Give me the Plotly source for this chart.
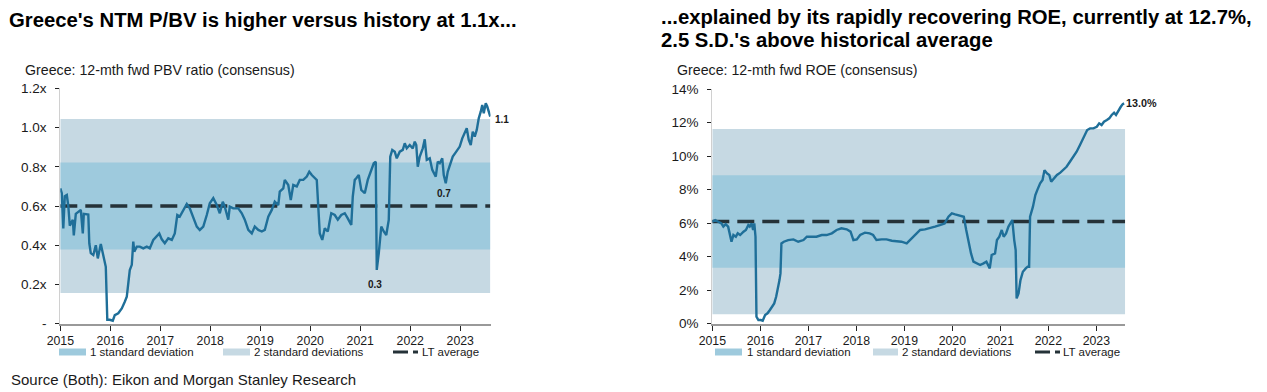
import plotly.graph_objects as go

# ---------------- DATA ----------------
# Left chart: Greece 12-mth fwd P/BV (decimal years, values in x)
pbv_years = [2015.00, 2015.03, 2015.06, 2015.09, 2015.13, 2015.16, 2015.19, 2015.25, 2015.27, 2015.31,
             2015.36, 2015.41, 2015.45, 2015.47, 2015.56, 2015.58, 2015.61, 2015.66, 2015.71, 2015.75,
             2015.81, 2015.87, 2015.91, 2015.94, 2015.99, 2016.05, 2016.09, 2016.16, 2016.23, 2016.29,
             2016.33, 2016.36, 2016.39, 2016.43, 2016.46, 2016.48, 2016.53, 2016.59, 2016.66, 2016.73,
             2016.79, 2016.86, 2016.93, 2016.98, 2017.03, 2017.09, 2017.16, 2017.23, 2017.29, 2017.34,
             2017.39, 2017.46, 2017.53, 2017.59, 2017.66, 2017.73, 2017.79, 2017.86, 2017.93, 2017.99,
             2018.06, 2018.13, 2018.19, 2018.25, 2018.29, 2018.36, 2018.39, 2018.46, 2018.56, 2018.63,
             2018.69, 2018.76, 2018.83, 2018.89, 2018.96, 2019.03, 2019.09, 2019.16, 2019.23, 2019.29,
             2019.36, 2019.39, 2019.46, 2019.49, 2019.56, 2019.61, 2019.66, 2019.73, 2019.79, 2019.86,
             2019.93, 2019.98, 2020.03, 2020.09, 2020.13, 2020.16, 2020.19, 2020.24, 2020.29, 2020.35,
             2020.42, 2020.49, 2020.55, 2020.62, 2020.69, 2020.75, 2020.82, 2020.85, 2020.89, 2020.92,
             2020.97, 2021.02, 2021.09, 2021.15, 2021.22, 2021.27, 2021.31, 2021.33, 2021.37, 2021.42,
             2021.47, 2021.52, 2021.57, 2021.60, 2021.64, 2021.69, 2021.73, 2021.79, 2021.85, 2021.89,
             2021.93, 2021.99, 2022.05, 2022.09, 2022.12, 2022.15, 2022.19, 2022.25, 2022.29, 2022.33,
             2022.39, 2022.44, 2022.51, 2022.55, 2022.59, 2022.64, 2022.67, 2022.71, 2022.75, 2022.80,
             2022.85, 2022.92, 2022.99, 2023.04, 2023.09, 2023.13, 2023.17, 2023.21, 2023.25, 2023.29,
             2023.33, 2023.37, 2023.41, 2023.44, 2023.47, 2023.51, 2023.54, 2023.57, 2023.60]
pbv_values = [0.69, 0.665, 0.486, 0.65, 0.656, 0.60, 0.50, 0.53, 0.45, 0.56,
              0.57, 0.58, 0.46, 0.56, 0.557, 0.41, 0.36, 0.35, 0.40, 0.333,
              0.406, 0.325, 0.29, 0.02, 0.02, 0.015, 0.044, 0.053, 0.078, 0.112,
              0.138, 0.206, 0.274, 0.30, 0.418, 0.367, 0.393, 0.393, 0.384, 0.393,
              0.384, 0.427, 0.444, 0.46, 0.43, 0.41, 0.435, 0.427, 0.46, 0.554,
              0.546, 0.58, 0.61, 0.588, 0.546, 0.495, 0.478, 0.495, 0.554, 0.614,
              0.64, 0.605, 0.563, 0.622, 0.597, 0.53, 0.597, 0.588, 0.588, 0.563,
              0.53, 0.478, 0.46, 0.495, 0.478, 0.47, 0.478, 0.546, 0.58, 0.622,
              0.605, 0.673, 0.69, 0.733, 0.707, 0.63, 0.707, 0.70, 0.733, 0.733,
              0.75, 0.775, 0.758, 0.741, 0.733, 0.597, 0.46, 0.427, 0.486, 0.47,
              0.563, 0.554, 0.53, 0.554, 0.563, 0.537, 0.503, 0.648, 0.733, 0.741,
              0.758, 0.682, 0.665, 0.733, 0.784, 0.818, 0.826, 0.274, 0.359, 0.495,
              0.47, 0.452, 0.529, 0.852, 0.886, 0.877, 0.843, 0.877, 0.886, 0.92,
              0.894, 0.911, 0.894, 0.928, 0.911, 0.80, 0.852, 0.894, 0.94, 0.835,
              0.843, 0.784, 0.75, 0.826, 0.818, 0.843, 0.758, 0.716, 0.775, 0.809,
              0.852, 0.877, 0.903, 0.945, 0.979, 0.996, 0.937, 0.911, 0.979, 0.954,
              0.988, 1.047, 1.081, 1.115, 1.073, 1.124, 1.107, 1.073, 1.056]
pbv_lt_avg = 0.60
pbv_sd = 0.222
pbv_ticks = [0, 0.2, 0.4, 0.6, 0.8, 1.0, 1.2]
pbv_ticktext = ["-", "0.2x", "0.4x", "0.6x", "0.8x", "1.0x", "1.2x"]
pbv_labels = [(2023.60, 1.056, "1.1"), (2022.71, 0.716, "0.7"), (2021.33, 0.274, "0.3")]

# Right chart: Greece 12-mth fwd ROE (%)
roe_years = [2015.00, 2015.06, 2015.125, 2015.19, 2015.23, 2015.28, 2015.33, 2015.37, 2015.40, 2015.44,
             2015.49, 2015.53, 2015.58, 2015.65, 2015.70, 2015.75, 2015.78, 2015.82, 2015.85, 2015.875,
             2015.90, 2015.92, 2015.96, 2016.01, 2016.05, 2016.10, 2016.15, 2016.20, 2016.25, 2016.29,
             2016.33, 2016.36, 2016.40, 2016.42, 2016.44, 2016.49, 2016.58, 2016.69, 2016.79, 2016.90,
             2016.97, 2017.07, 2017.17, 2017.28, 2017.38, 2017.49, 2017.59, 2017.69, 2017.80, 2017.88,
             2017.94, 2018.01, 2018.08, 2018.18, 2018.28, 2018.35, 2018.42, 2018.53, 2018.63, 2018.74,
             2018.84, 2018.94, 2019.05, 2019.12, 2019.22, 2019.33, 2019.43, 2019.53, 2019.64, 2019.74,
             2019.84, 2019.92, 2019.99, 2020.06, 2020.13, 2020.24, 2020.29, 2020.34, 2020.39, 2020.44,
             2020.51, 2020.58, 2020.65, 2020.71, 2020.78, 2020.82, 2020.89, 2020.93, 2020.98, 2021.03,
             2021.07, 2021.12, 2021.17, 2021.22, 2021.25, 2021.29, 2021.32, 2021.34, 2021.38, 2021.42,
             2021.47, 2021.53, 2021.57, 2021.60, 2021.62, 2021.68, 2021.73, 2021.77, 2021.83, 2021.88,
             2021.92, 2021.97, 2022.02, 2022.06, 2022.12, 2022.18, 2022.25, 2022.31, 2022.38, 2022.45,
             2022.52, 2022.59, 2022.66, 2022.72, 2022.77, 2022.81, 2022.87, 2022.94, 2023.01, 2023.06,
             2023.11, 2023.16, 2023.22, 2023.27, 2023.32, 2023.37, 2023.41, 2023.46, 2023.51, 2023.55,
             2023.58]
roe_values = [6.08, 6.18, 6.08, 5.98, 5.79, 5.94, 5.79, 5.29, 4.89, 5.29,
              5.19, 5.39, 5.29, 5.49, 5.59, 5.88, 5.79, 5.98, 5.59, 5.98,
              5.19, 0.42, 0.22, 0.22, 0.18, 0.52, 0.62, 0.82, 1.01, 1.21,
              1.61, 2.0, 2.6, 3.0, 4.79, 4.89, 4.99, 5.03, 4.89, 4.99,
              5.19, 5.19, 5.19, 5.29, 5.29, 5.39, 5.59, 5.69, 5.63, 5.49,
              4.99, 5.03, 5.29, 5.43, 5.39, 5.29, 4.99, 5.03, 5.03, 4.95,
              4.93, 4.89, 4.79, 4.99, 5.29, 5.59, 5.63, 5.69, 5.79, 5.88,
              5.98, 6.38, 6.58, 6.52, 6.48, 6.38, 5.59, 4.79, 4.19, 3.70,
              3.60, 3.50, 3.60, 3.70, 3.30, 4.10, 4.19, 4.99, 5.19, 5.59,
              5.19, 5.39, 5.79, 6.08, 6.18, 4.99, 4.39, 1.51, 1.81, 2.60,
              3.10, 3.30, 3.40, 3.40, 6.38, 6.98, 7.67, 7.97, 8.37, 8.57,
              9.16, 8.97, 8.87, 8.47, 8.67, 8.87, 9.01, 9.16, 9.36, 9.66,
              9.96, 10.26, 10.66, 11.05, 11.35, 11.55, 11.65, 11.65, 11.75, 11.95,
              11.85, 12.05, 12.15, 12.25, 12.45, 12.58, 12.45, 12.74, 12.94, 13.10,
              13.14]
roe_lt_avg = 6.09
roe_sd = 2.76
roe_ticks = [0, 2, 4, 6, 8, 10, 12, 14]
roe_ticktext = ["0%", "2%", "4%", "6%", "8%", "10%", "12%", "14%"]
roe_labels = [(2023.58, 13.14, "13.0%")]

year_ticks = [2015, 2016, 2017, 2018, 2019, 2020, 2021, 2022, 2023]
band_start, band_end = 2015.0, 2023.6

titles_left = "Greece's NTM P/BV is higher versus history at 1.1x..."
titles_right = ["...explained by its rapidly recovering ROE, currently at 12.7%,",
                "2.5 S.D.'s above historical average"]
sub_left = "Greece: 12-mth fwd PBV ratio (consensus)"
sub_right = "Greece: 12-mth fwd ROE (consensus)"
legend_items = ["1 standard deviation", "2 standard deviations", "LT average"]
source_text = "Source (Both): Eikon and Morgan Stanley Research"

# ---------------- STYLE ----------------
W, H = 1267, 392
FONT = "Liberation Sans, Arial, sans-serif"
C_SD1 = "#9ecadd"
C_SD2 = "#c6d9e3"
C_LINE = "#1f6f99"
C_AVG = "#253238"
C_TXT = "#1a1a1a"
TITLE_SIZE = 20.3


def px_x(p):
    return p / W


def px_y(p):
    return 1 - p / H


fig = go.Figure()

panels = [
    dict(xa="x", ya="y", years=pbv_years, vals=pbv_values, avg=pbv_lt_avg, sd=pbv_sd),
    dict(xa="x2", ya="y2", years=roe_years, vals=roe_values, avg=roe_lt_avg, sd=roe_sd),
]

shapes = []
for p in panels:
    # 2 SD band then 1 SD band
    shapes.append(dict(type="rect", xref=p["xa"], yref=p["ya"], x0=band_start, x1=band_end,
                       y0=p["avg"] - 2 * p["sd"], y1=p["avg"] + 2 * p["sd"],
                       fillcolor=C_SD2, line=dict(width=0), layer="below"))
    shapes.append(dict(type="rect", xref=p["xa"], yref=p["ya"], x0=band_start, x1=band_end,
                       y0=p["avg"] - p["sd"], y1=p["avg"] + p["sd"],
                       fillcolor=C_SD1, line=dict(width=0), layer="below"))
    fig.add_trace(go.Scatter(x=[band_start, band_end], y=[p["avg"], p["avg"]], mode="lines",
                             xaxis=p["xa"], yaxis=p["ya"], showlegend=False, hoverinfo="skip",
                             line=dict(color=C_AVG, width=3.5, dash="17px,8px")))
    fig.add_trace(go.Scatter(x=p["years"], y=p["vals"], mode="lines",
                             xaxis=p["xa"], yaxis=p["ya"], showlegend=False, cliponaxis=False,
                             line=dict(color=C_LINE, width=2.4)))

annotations = []
# data labels
for (xv, yv, t) in pbv_labels:
    if t == "1.1":
        annotations.append(dict(x=xv, y=yv, xref="x", yref="y", text="<b>%s</b>" % t, showarrow=False,
                                xanchor="left", yanchor="middle", xshift=3, yshift=-3,
                                font=dict(family=FONT, size=10, color=C_TXT)))
    else:
        annotations.append(dict(x=xv, y=yv, xref="x", yref="y", text="<b>%s</b>" % t, showarrow=False,
                                xanchor="center", yanchor="top", yshift=-3 if t == "0.7" else -7,
                                xshift=-2,
                                font=dict(family=FONT, size=10, color=C_TXT)))
for (xv, yv, t) in roe_labels:
    annotations.append(dict(x=xv, y=yv, xref="x2", yref="y2", text="<b>%s</b>" % t, showarrow=False,
                            xanchor="left", yanchor="middle", xshift=0,
                            font=dict(family=FONT, size=10.8, color=C_TXT)))

# titles
annotations.append(dict(x=px_x(7), y=px_y(20), xref="paper", yref="paper", text="<b>%s</b>" % titles_left,
                        showarrow=False, xanchor="left", yanchor="middle",
                        font=dict(family=FONT, size=TITLE_SIZE, color="#000")))
annotations.append(dict(x=px_x(659), y=px_y(17), xref="paper", yref="paper", text="<b>%s</b>" % titles_right[0],
                        showarrow=False, xanchor="left", yanchor="middle",
                        font=dict(family=FONT, size=TITLE_SIZE, color="#000")))
annotations.append(dict(x=px_x(659), y=px_y(40), xref="paper", yref="paper", text="<b>%s</b>" % titles_right[1],
                        showarrow=False, xanchor="left", yanchor="middle",
                        font=dict(family=FONT, size=TITLE_SIZE, color="#000")))
annotations.append(dict(x=px_x(23), y=px_y(70), xref="paper", yref="paper", text=sub_left,
                        showarrow=False, xanchor="left", yanchor="middle",
                        font=dict(family=FONT, size=14.2, color=C_TXT)))
annotations.append(dict(x=px_x(675), y=px_y(70), xref="paper", yref="paper", text=sub_right,
                        showarrow=False, xanchor="left", yanchor="middle",
                        font=dict(family=FONT, size=14.2, color=C_TXT)))
annotations.append(dict(x=px_x(9), y=px_y(379), xref="paper", yref="paper", text=source_text,
                        showarrow=False, xanchor="left", yanchor="middle",
                        font=dict(family=FONT, size=15, color=C_TXT)))

# legends (one row under each chart)
leg_rows = [
    dict(sw1=(59, 86), t1=88, sw2=(223, 250), t2=252, dash=(393, 408, 413, 418), t3=420),
    dict(sw1=(715, 742), t1=745, sw2=(873, 898), t2=900, dash=(1035, 1050, 1055, 1060), t3=1061),
]
LY = 352
for r in leg_rows:
    shapes.append(dict(type="rect", xref="paper", yref="paper", x0=px_x(r["sw1"][0]), x1=px_x(r["sw1"][1]),
                       y0=px_y(LY + 3.5), y1=px_y(LY - 3.5), fillcolor=C_SD1, line=dict(width=0)))
    shapes.append(dict(type="rect", xref="paper", yref="paper", x0=px_x(r["sw2"][0]), x1=px_x(r["sw2"][1]),
                       y0=px_y(LY + 3.5), y1=px_y(LY - 3.5), fillcolor=C_SD2, line=dict(width=0)))
    d = r["dash"]
    shapes.append(dict(type="line", xref="paper", yref="paper", x0=px_x(d[0]), x1=px_x(d[1]),
                       y0=px_y(LY), y1=px_y(LY), line=dict(color=C_AVG, width=3)))
    shapes.append(dict(type="line", xref="paper", yref="paper", x0=px_x(d[2]), x1=px_x(d[3]),
                       y0=px_y(LY), y1=px_y(LY), line=dict(color=C_AVG, width=3)))
    for tx, lab in ((r["t1"], legend_items[0]), (r["t2"], legend_items[1]), (r["t3"], legend_items[2])):
        annotations.append(dict(x=px_x(tx), y=px_y(LY), xref="paper", yref="paper", text=lab,
                                showarrow=False, xanchor="left", yanchor="middle",
                                font=dict(family=FONT, size=11.5, color=C_TXT)))

xaxis_common = dict(tickmode="array", tickvals=year_ticks, ticktext=[str(y) for y in year_ticks],
                    showgrid=False, zeroline=False, showline=True, linecolor="#999999", linewidth=2,
                    ticks="outside", ticklen=5, tickcolor="#222", tickwidth=1, automargin=False,
                    tickfont=dict(family=FONT, size=12.3, color=C_TXT), fixedrange=True)
yaxis_common = dict(showgrid=False, zeroline=False, showline=True, linecolor="#d0d0d0", linewidth=1,
                    ticks="outside", ticklen=4, tickcolor="#222", tickwidth=1, automargin=False,
                    tickfont=dict(family=FONT, size=13.5, color=C_TXT), fixedrange=True,
                    ticklabelstandoff=6)

fig.update_layout(
    width=W, height=H, margin=dict(l=0, r=0, t=0, b=0, autoexpand=False),
    paper_bgcolor="white", plot_bgcolor="rgba(0,0,0,0)",
    showlegend=False,
    xaxis=dict(domain=[60.3 / W, 490.5 / W], range=[2015, 2023.605], anchor="y", **xaxis_common),
    yaxis=dict(domain=[px_y(323.7), px_y(88.3)], range=[0, 1.2], anchor="x",
               tickmode="array", tickvals=pbv_ticks, ticktext=pbv_ticktext, **yaxis_common),
    xaxis2=dict(domain=[712.3 / W, 1125.3 / W], range=[2015, 2023.604], anchor="y2", **xaxis_common),
    yaxis2=dict(domain=[px_y(323.7), px_y(89)], range=[0, 14], anchor="x2",
                tickmode="array", tickvals=roe_ticks, ticktext=roe_ticktext, **yaxis_common),
    shapes=shapes,
    annotations=annotations,
)

fig.write_html("out.html", config={"displayModeBar": False},
               post_script="document.body.style.margin='0';document.body.style.overflow='hidden';")
